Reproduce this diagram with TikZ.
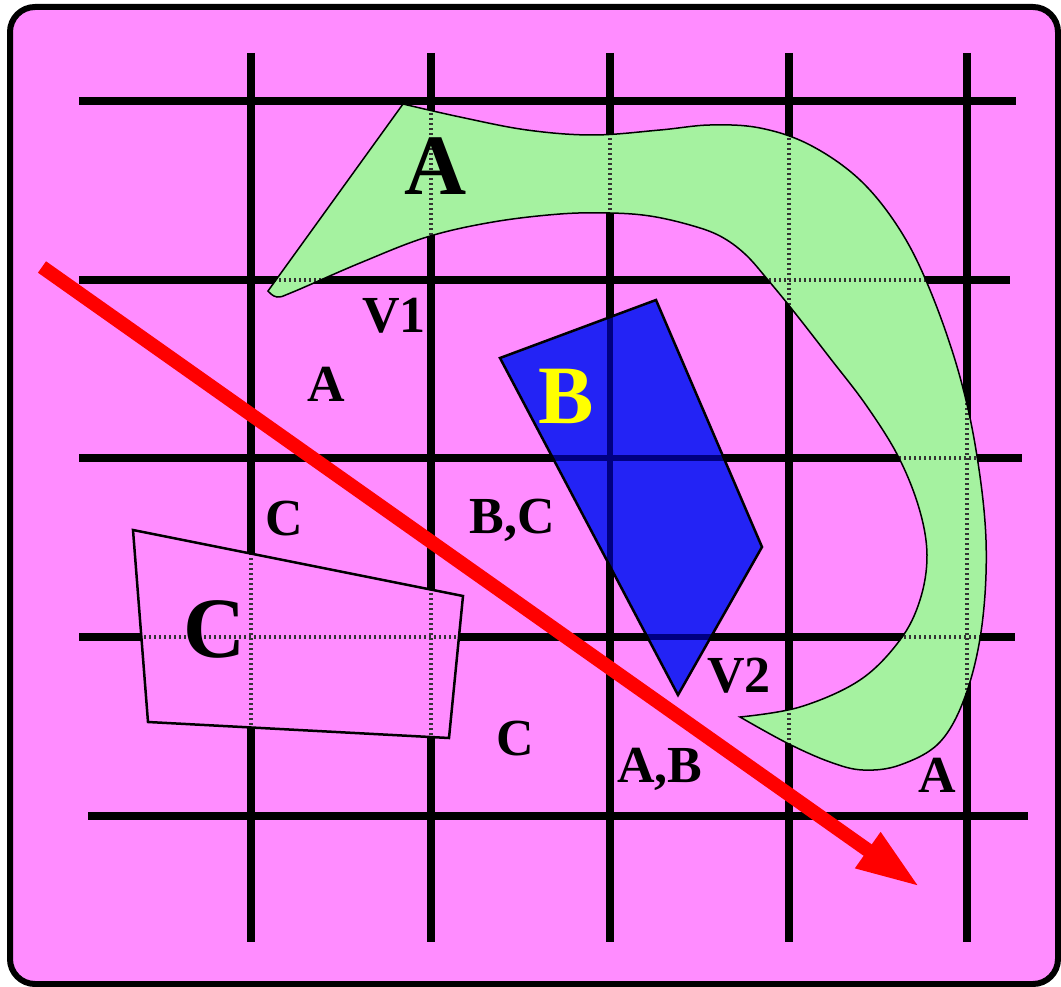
\documentclass[tikz,border=0pt]{standalone}
\usepackage{fontspec}
\setmainfont{Liberation Serif}
\usetikzlibrary{arrows.meta}
\definecolor{bgpink}{RGB}{255,140,255}
\definecolor{agreen}{RGB}{165,242,160}
\definecolor{bblue}{RGB}{35,35,245}
\definecolor{bdark}{RGB}{0,0,130}
\definecolor{byellow}{RGB}{255,255,0}
\definecolor{arrred}{RGB}{255,0,0}
\newcommand{\gridlines}[1]{%
  \foreach \yy/\xa/\xb in {101/79/1016, 280/79/1010, 458/79/1022, 637/79/1015, 816/88/1028}
    {\draw[#1] (\xa,\yy) -- (\xb,\yy);}
  \foreach \xx in {251,431,610,789,967}
    {\draw[#1] (\xx,53) -- (\xx,942);}
}
\def\shapeA{(268,291) -- (403,104) -- plot[smooth, tension=0.6] coordinates {(403,104) (460,117) (527,130) (593,135) (660,130) (710,125) (760,128) (810,145) (860,180) (900,230) (930,290) (958,370) (976,450) (986,540) (982,625) (966,694) (940,742) (900,765) (863,770) (830,762) (787,743) (740,717)} -- plot[smooth, tension=0.6] coordinates {(740,717) (800,707) (860,680) (900,640) (920,600) (927,555) (919,508) (898,456) (866,405) (830,358) (795,313) (768,280) (745,254) (720,236) (690,225) (650,216) (610,213) (560,214) (493,222) (427,237) (360,263) (293,292) (277,297) (268,291)} -- cycle}
\def\shapeB{(500,358) -- (656,300) -- (762,547) -- (678,695) -- cycle}
\def\shapeC{(133,530) -- (463,596) -- (449,738) -- (148,722) -- cycle}
\tikzset{
  gridline/.style={line width=7.5pt, black},
  dotgrid/.style={line width=3.5pt, black!80, dash pattern=on 2pt off 3pt},
  bluegrid/.style={line width=6.5pt, bdark},
  lbl/.style={font=\bfseries\fontsize{52}{52}\selectfont, inner sep=0pt, anchor=base},
  biglbl/.style={font=\bfseries\fontsize{86}{86}\selectfont, inner sep=0pt, anchor=base},
  redarrow/.style={line width=14pt, arrred, -{Triangle[length=64pt,width=40pt]}}
}
\begin{document}
\begin{tikzpicture}[x=1pt, y=-1pt]
\useasboundingbox (0,0) rectangle (1061,987);
% background
\draw[line width=6pt, rounded corners=25pt, fill=bgpink] (10,7) rectangle (1058,984);
% grid
\gridlines{gridline}
% shape C
\fill[bgpink] \shapeC;
\begin{scope}
  \clip \shapeC;
  \gridlines{dotgrid}
\end{scope}
\draw[line width=2.5pt] \shapeC;
% shape B
\fill[bblue] \shapeB;
\begin{scope}
  \clip \shapeB;
  \gridlines{bluegrid}
\end{scope}
\draw[line width=2.5pt] \shapeB;
% shape A
\fill[agreen] \shapeA;
\begin{scope}
  \clip \shapeA;
  \gridlines{dotgrid}
\end{scope}
\draw[line width=1.5pt] \shapeA;
% labels
\node[biglbl] (bigA) at (436,195) {A};
\node[lbl] (v1) at (394,333) {V1};
\node[lbl] (a1) at (326,401) {A};
\node[biglbl, text=byellow, font=\bfseries\fontsize{83}{83}\selectfont] (bigB) at (566,423) {B};
\node[lbl] (c1) at (284,535) {C};
\node[lbl] (bc) at (512,533) {B,C};
\node[biglbl] (bigC) at (215,657) {C};
\node[lbl] (v2) at (739,692) {V2};
\node[lbl] (c2) at (515,755) {C};
\node[lbl] (ab) at (660,782) {A,B};
\node[lbl] (a2) at (937,792) {A};
% red arrow
\coordinate (tail) at (42,267);
\coordinate (tip) at (920,887);
\draw[redarrow] (tail) -- (tip);
\end{tikzpicture}
\end{document}
